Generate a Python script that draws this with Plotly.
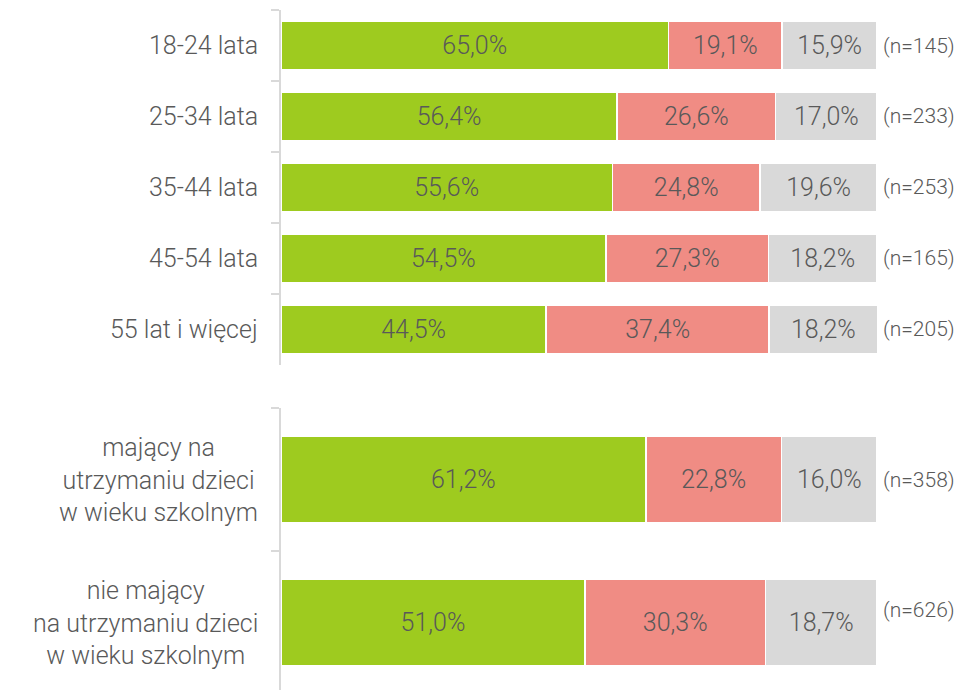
import plotly.graph_objects as go

# ---- data ----
top_categories = ["18-24 lata", "25-34 lata", "35-44 lata", "45-54 lata", "55 lat i więcej"]
top_yes = [65.0, 56.4, 55.6, 54.5, 44.5]
top_no = [19.1, 26.6, 24.8, 27.3, 37.4]
top_dk = [15.9, 17.0, 19.6, 18.2, 18.2]
top_n = [145, 233, 253, 165, 205]

bot_categories = ["mający na<br>utrzymaniu dzieci<br>w wieku szkolnym",
                  "nie mający<br>na utrzymaniu dzieci<br>w wieku szkolnym"]
bot_yes = [61.2, 51.0]
bot_no = [22.8, 30.3]
bot_dk = [16.0, 18.7]
bot_n = [358, 626]

COLORS = ["#9ECB1F", "#F08C84", "#D9D9D9"]
TXT = "#595959"
FONT = "Roboto"
FS = 25
WEIGHT = 300


def fmt(v):
    return f"{v:.1f}".replace(".", ",") + "%"


fig = go.Figure()

panels = [
    (top_categories, [top_yes, top_no, top_dk], top_n, "x", "y", 0.68),
    (bot_categories, [bot_yes, bot_no, bot_dk], bot_n, "x2", "y2", 0.60),
]

for cats, series, ns, xa, ya, w in panels:
    for vals, col in zip(series, COLORS):
        fig.add_trace(go.Bar(
            y=cats, x=vals, orientation="h", xaxis=xa, yaxis=ya,
            marker=dict(color=col, line=dict(color="white", width=1.5)),
            width=w,
            text=[fmt(v) for v in vals], textposition="inside",
            insidetextanchor="middle",
            textfont=dict(color=TXT, size=FS, family=FONT, weight=WEIGHT),
            showlegend=False, hoverinfo="skip",
        ))

annotations = []
for pi, (cats, series, ns, xa, ya, w) in enumerate(panels):
    for ci, (c, n) in enumerate(zip(cats, ns)):
        ysh = 13 if (pi == 1 and ci == 1) else 0
        annotations.append(dict(
            x=100, y=c, xref=xa, yref=ya, text=f"(n={n})", showarrow=False,
            xanchor="left", xshift=4, yshift=ysh,
            font=dict(color=TXT, size=21, family=FONT, weight=WEIGHT)))
        annotations.append(dict(
            x=0, y=c, xref=xa, yref=ya, text=c, showarrow=False,
            xanchor="right", align="center", xshift=-21,
            font=dict(color=TXT, size=FS, family=FONT, weight=WEIGHT)))

axis_line = dict(showline=True, linecolor="#D9D9D9", linewidth=2,
                 ticks="outside", tickcolor="#D9D9D9", ticklen=8, tickwidth=2,
                 tickson="boundaries", showticklabels=False, showgrid=False,
                 zeroline=False, type="category")

fig.update_layout(
    width=962, height=690,
    margin=dict(l=273, r=93, t=2, b=8),
    plot_bgcolor="white", paper_bgcolor="white",
    barmode="stack",
    font=dict(family=FONT, color=TXT),
    xaxis=dict(range=[0, 100], visible=False, domain=[0, 1], anchor="y"),
    xaxis2=dict(range=[0, 100], visible=False, domain=[0, 1], anchor="y2"),
    yaxis=dict(domain=[0.478, 1], range=[4.5, -0.5], anchor="x", **axis_line),
    yaxis2=dict(domain=[0, 0.4147], range=[1.472, -0.5], anchor="x2", **axis_line),
    annotations=annotations,
)

fig.write_html("out.html")
